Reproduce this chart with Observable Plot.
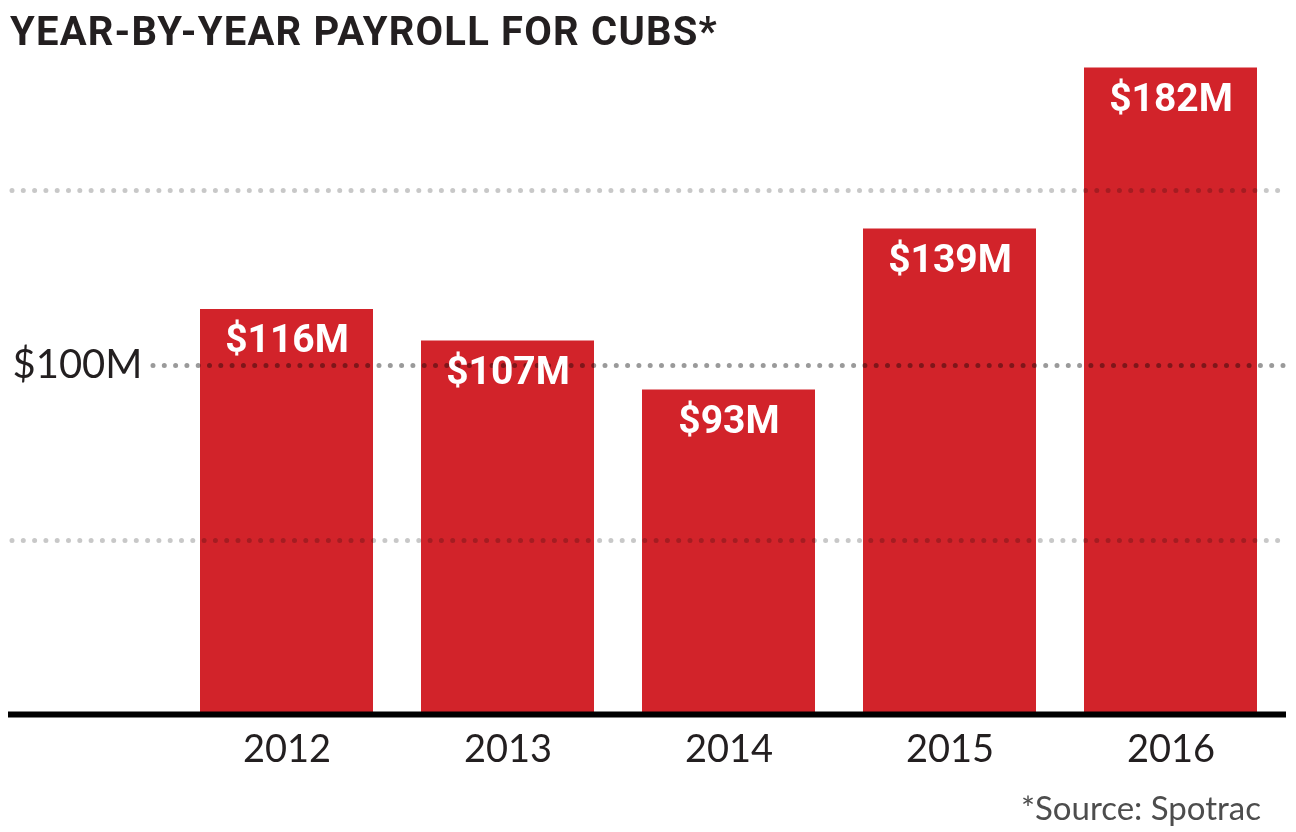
<!DOCTYPE html>
<html>
<head>
<meta charset="utf-8">
<script src="https://cdn.jsdelivr.net/npm/d3@7"></script>
<script src="https://cdn.jsdelivr.net/npm/@observablehq/plot@0.6"></script>
<style>
  html, body { margin: 0; padding: 0; background: #ffffff; }
  #wrap { width: 1296px; height: 832px; position: relative; overflow: hidden; }
  #title { height: 48px; padding-top: 12px; padding-left: 10px; font-family: Roboto, sans-serif; font-weight: 700; font-size: 40px; line-height: 1; color: #231f20; letter-spacing: 1.2px; white-space: nowrap; }
  #chart svg { display: block; }
  #source { margin-top: 16px; width: 1261px; text-align: right; font-family: Lato, sans-serif; font-size: 33px; line-height: 1; color: #4d4d4d; }
</style>
</head>
<body>
<div id="wrap">
  <div id="title">YEAR-BY-YEAR PAYROLL FOR CUBS*</div>
  <div id="chart"></div>
  <div id="source">*Source: Spotrac</div>
</div>
<script>
const years = ["2012", "2013", "2014", "2015", "2016"];
const payroll = [116, 107, 93, 139, 185];          // bar heights as drawn ($M)
const barLabels = ["$116M", "$107M", "$93M", "$139M", "$182M"];
const gridLight = [50, 150];
const gridDark = [100];
const yTickLabels = ["$100M"];

const data = years.map((year, i) => ({year, value: payroll[i], label: barLabels[i]}));

const chart = Plot.plot({
  width: 1296,
  height: 715,
  marginTop: 4,
  marginBottom: 60,
  marginLeft: 8,
  marginRight: 10,
  style: {background: "white", overflow: "visible"},
  x: {domain: years, range: [150, 1307], paddingInner: 0.215, paddingOuter: 0.215, label: null},
  y: {domain: [0, 186], label: null, axis: null},
  marks: [
    Plot.barY(data, {x: "year", y: "value", fill: "#d2232a"}),
    Plot.ruleY(gridLight, {stroke: "#c8c8c8", strokeWidth: 5, strokeLinecap: "round", strokeDasharray: "0,11.3", insetLeft: 4, mixBlendMode: "multiply"}),
    Plot.ruleY(gridDark, {stroke: "#9a9a9a", strokeWidth: 5, strokeLinecap: "round", strokeDasharray: "0,11.3", insetLeft: 145, mixBlendMode: "multiply"}),
    Plot.text(gridDark, {y: d => d, text: (d, i) => yTickLabels[i], frameAnchor: "left", textAnchor: "start", dx: 4, fontSize: 40, fontFamily: "Lato, sans-serif", fill: "#231f20"}),
    Plot.text(data, {x: "year", y: "value", text: "label", lineAnchor: "top", dy: 15, fill: "white", fontSize: 39, fontWeight: "bold", fontFamily: "Roboto, sans-serif"}),
    Plot.ruleY([0], {stroke: "#000", strokeWidth: 6, dy: -1}),
    Plot.axisX({tickSize: 0, tickPadding: 20, fontSize: 38, fontFamily: "Lato, sans-serif", fill: "#231f20", label: null})
  ]
});
document.getElementById("chart").appendChild(chart);
</script>
</body>
</html>
